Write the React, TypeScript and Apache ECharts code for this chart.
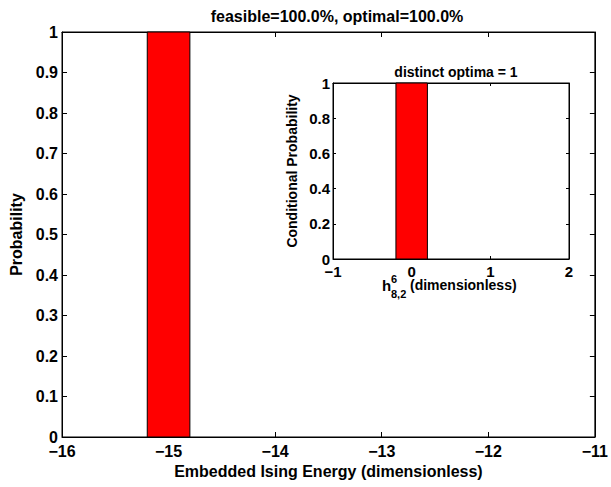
import React, { useEffect, useRef } from "react";
import * as echarts from "echarts";

// ---- data ----
const mainTitle = "feasible=100.0%, optimal=100.0%";
const mainXName = "Embedded Ising Energy (dimensionless)";
const mainYName = "Probability";
const mainBinCenters = [-15];
const mainProbabilities = [1];
const mainBinWidth = 0.4;
const mainXRange = [-16, -11];
const mainYRange = [0, 1];

const insetTitle = "distinct optima = 1";
const insetYName = "Conditional Probability";
const insetBinCenters = [0];
const insetProbabilities = [1];
const insetBinWidth = 0.4;
const insetXRange = [-1, 2];
const insetYRange = [0, 1];

const FONT = "'Liberation Sans', Arial, Helvetica, sans-serif";

const fmtMinus = (v: number) => (v < 0 ? "\u2212" + Math.abs(v) : String(v));

function histRender(params: any, api: any) {
  const c = api.value(0);
  const h = api.value(1);
  const w = api.value(2);
  const p0 = api.coord([c - w / 2, h]);
  const p1 = api.coord([c + w / 2, 0]);
  return {
    type: "rect",
    shape: { x: p0[0], y: p0[1], width: p1[0] - p0[0], height: p1[1] - p0[1] },
    style: { fill: "#ff0000", stroke: "#000000", lineWidth: 1 },
  };
}

export default function App() {
  const ref = useRef<HTMLDivElement>(null);
  useEffect(() => {
    document.body.style.margin = "0";
    const chart = echarts.init(ref.current!, null, { renderer: "svg" });
    const lineStyle = { color: "#000", width: 1 };
    const baseAxis = (extra: any) => ({
      type: "value",
      splitLine: { show: false },
      axisLine: { show: true, onZero: false, lineStyle },
      axisTick: { show: true, inside: true, lineStyle },
      ...extra,
    });
    const tickLabel = (size: number, margin: number, fmt?: any) => ({
      show: true,
      color: "#000",
      fontFamily: FONT,
      fontWeight: "bold",
      fontSize: size,
      margin,
      formatter: fmt,
    });
    const noLabel = { show: false };

    chart.setOption({
      animation: false,
      backgroundColor: "#ffffff",
      title: [
        {
          text: mainTitle,
          left: 332,
          textAlign: "center",
          top: 3,
          textStyle: { fontFamily: FONT, fontWeight: "bold", fontSize: 16, color: "#000" },
        },
        {
          text: insetTitle,
          left: 451,
          textAlign: "center",
          top: 60,
          textStyle: { fontFamily: FONT, fontWeight: "bold", fontSize: 14, color: "#000" },
        },
      ],
      grid: [
        { left: 62, right: 9, top: 32, bottom: 50, show: true, borderColor: "#000", borderWidth: 1, backgroundColor: "#fff" },
        { left: 333, width: 236, top: 83, height: 176, show: true, borderColor: "#000", borderWidth: 1, backgroundColor: "#fff" },
      ],
      xAxis: [
        baseAxis({
          gridIndex: 0,
          position: "bottom",
          min: mainXRange[0],
          max: mainXRange[1],
          interval: 1,
          axisTick: { show: true, inside: true, length: 5, lineStyle },
          axisLabel: tickLabel(16, 6, fmtMinus),
          name: mainXName,
          nameLocation: "middle",
          nameGap: 24,
          nameTextStyle: { fontFamily: FONT, fontWeight: "bold", fontSize: 16, color: "#000" },
        }),
        baseAxis({
          gridIndex: 0,
          position: "top",
          min: mainXRange[0],
          max: mainXRange[1],
          interval: 1,
          axisTick: { show: true, inside: true, length: 5, lineStyle },
          axisLabel: noLabel,
        }),
        baseAxis({
          gridIndex: 1,
          position: "bottom",
          min: insetXRange[0],
          max: insetXRange[1],
          interval: 1,
          axisTick: { show: true, inside: true, length: 3, lineStyle },
          axisLabel: tickLabel(15, 5, fmtMinus),
        }),
        baseAxis({
          gridIndex: 1,
          position: "top",
          min: insetXRange[0],
          max: insetXRange[1],
          interval: 1,
          axisTick: { show: true, inside: true, length: 3, lineStyle },
          axisLabel: noLabel,
        }),
      ],
      yAxis: [
        baseAxis({
          gridIndex: 0,
          position: "left",
          min: mainYRange[0],
          max: mainYRange[1],
          interval: 0.1,
          axisTick: { show: true, inside: true, length: 5, lineStyle },
          axisLabel: tickLabel(16, 4),
          name: mainYName,
          nameLocation: "middle",
          nameGap: 37,
          nameTextStyle: { fontFamily: FONT, fontWeight: "bold", fontSize: 16, color: "#000" },
        }),
        baseAxis({
          gridIndex: 0,
          position: "right",
          min: mainYRange[0],
          max: mainYRange[1],
          interval: 0.1,
          axisTick: { show: true, inside: true, length: 5, lineStyle },
          axisLabel: noLabel,
        }),
        baseAxis({
          gridIndex: 1,
          position: "left",
          min: insetYRange[0],
          max: insetYRange[1],
          interval: 0.2,
          axisTick: { show: true, inside: true, length: 3, lineStyle },
          axisLabel: tickLabel(15, 3),
          name: insetYName,
          nameLocation: "middle",
          nameGap: 34,
          nameTextStyle: { fontFamily: FONT, fontWeight: "bold", fontSize: 14, color: "#000" },
        }),
        baseAxis({
          gridIndex: 1,
          position: "right",
          min: insetYRange[0],
          max: insetYRange[1],
          interval: 0.2,
          axisTick: { show: true, inside: true, length: 3, lineStyle },
          axisLabel: noLabel,
        }),
      ],
      graphic: [
        {
          type: "text",
          left: 382,
          top: 278,
          style: { text: "h", font: `bold 15px ${FONT}`, fill: "#000" },
        },
        {
          type: "text",
          left: 391,
          top: 273,
          style: { text: "6", font: `bold 11px ${FONT}`, fill: "#000" },
        },
        {
          type: "text",
          left: 391,
          top: 288,
          style: { text: "8,2", font: `bold 11px ${FONT}`, fill: "#000" },
        },
        {
          type: "text",
          left: 410,
          top: 278,
          style: { text: "(dimensionless)", font: `bold 14px ${FONT}`, fill: "#000" },
        },
      ],
      series: [
        {
          type: "custom",
          xAxisIndex: 0,
          yAxisIndex: 0,
          renderItem: histRender,
          encode: { x: 0, y: 1 },
          data: mainBinCenters.map((c, i) => [c, mainProbabilities[i], mainBinWidth]),
          z: 3,
        },
        {
          type: "custom",
          xAxisIndex: 2,
          yAxisIndex: 2,
          renderItem: histRender,
          encode: { x: 0, y: 1 },
          data: insetBinCenters.map((c, i) => [c, insetProbabilities[i], insetBinWidth]),
          z: 3,
        },
      ],
    });
    return () => chart.dispose();
  }, []);
  return <div ref={ref} style={{ position: "fixed", left: 0, top: 0, width: 611, height: 487 }} />;
}
